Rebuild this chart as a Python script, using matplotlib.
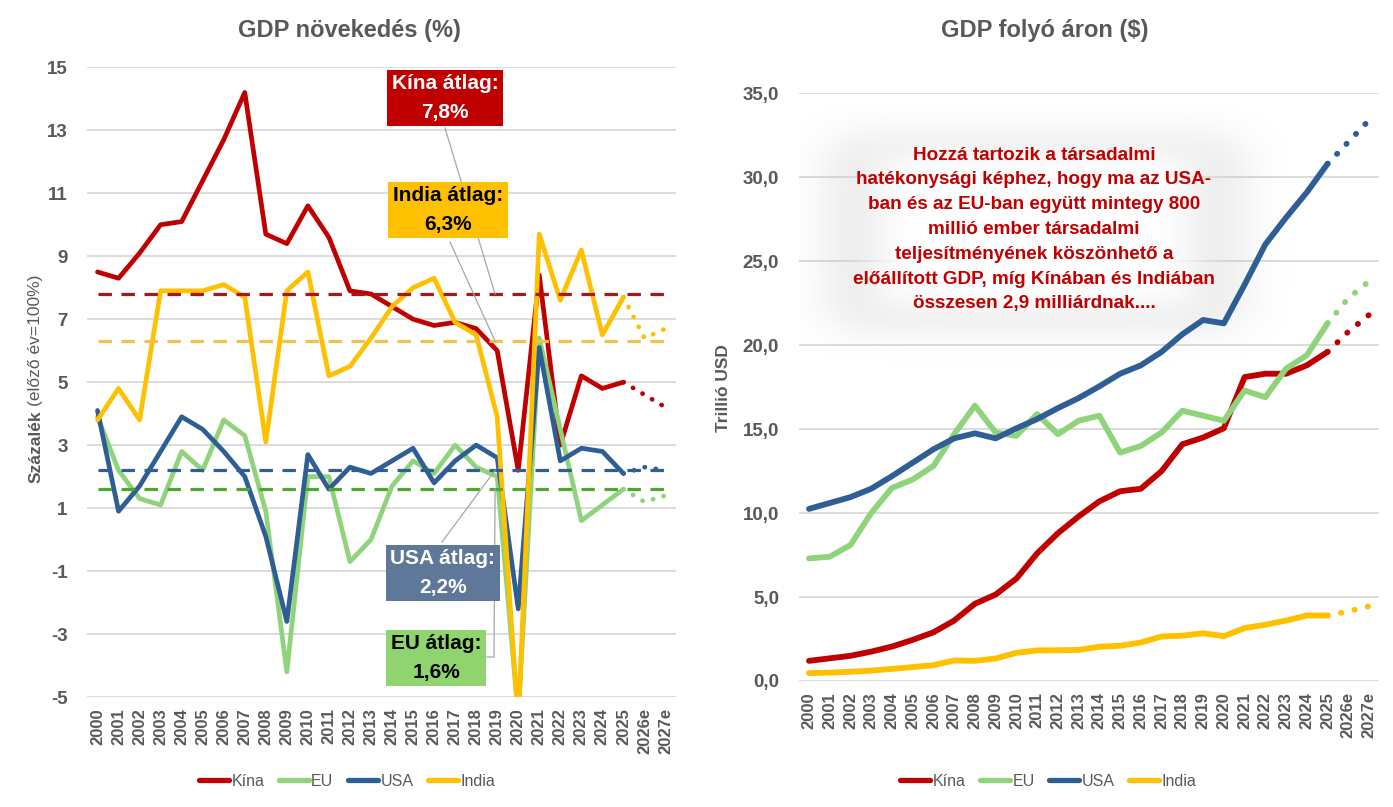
import math
import numpy as np
import matplotlib
matplotlib.use("Agg")
import matplotlib.pyplot as plt
from matplotlib.lines import Line2D

plt.rcParams['font.family'] = ['Liberation Sans', 'DejaVu Sans']

# ---------------- data ----------------
years = ['2000', '2001', '2002', '2003', '2004', '2005', '2006', '2007', '2008', '2009',
         '2010', '2011', '2012', '2013', '2014', '2015', '2016', '2017', '2018', '2019',
         '2020', '2021', '2022', '2023', '2024', '2025', '2026e', '2027e']
series_names = ['Kína', 'EU', 'USA', 'India']

growth_china = [8.5, 8.3, 9.1, 10.0, 10.1, 11.4, 12.7, 14.2, 9.7, 9.4, 10.6, 9.6, 7.9, 7.8,
                7.4, 7.0, 6.8, 6.9, 6.7, 6.0, 2.2, 8.4, 3.0, 5.2, 4.8, 5.0, 4.6, 4.2]
growth_eu = [3.9, 2.2, 1.3, 1.1, 2.8, 2.2, 3.8, 3.3, 0.9, -4.2, 2.0, 2.0, -0.7, 0.0,
             1.7, 2.5, 2.1, 3.0, 2.3, 2.0, -5.6, 6.4, 3.5, 0.6, 1.1, 1.6, 1.2, 1.4]
growth_usa = [4.1, 0.9, 1.7, 2.8, 3.9, 3.5, 2.8, 2.0, 0.1, -2.6, 2.7, 1.6, 2.3, 2.1,
              2.5, 2.9, 1.8, 2.5, 3.0, 2.6, -2.2, 6.1, 2.5, 2.9, 2.8, 2.1, 2.3, 2.2]
growth_india = [3.8, 4.8, 3.8, 7.9, 7.9, 7.9, 8.1, 7.7, 3.1, 7.9, 8.5, 5.2, 5.5, 6.4,
                7.4, 8.0, 8.3, 6.9, 6.5, 3.9, -5.8, 9.7, 7.6, 9.2, 6.5, 7.7, 6.4, 6.7]
growth_avg = [7.8, 1.6, 2.2, 6.3]
avg_labels = ['Kína átlag:\n7,8%', 'EU átlag:\n1,6%', 'USA átlag:\n2,2%', 'India átlag:\n6,3%']

gdp_china = [1.2, 1.35, 1.5, 1.75, 2.05, 2.45, 2.9, 3.6, 4.6, 5.15, 6.1, 7.6, 8.8, 9.8,
             10.7, 11.3, 11.45, 12.5, 14.1, 14.5, 15.05, 18.1, 18.3, 18.3, 18.8, 19.6, 20.8, 21.8]
gdp_eu = [7.3, 7.4, 8.1, 10.0, 11.5, 12.0, 12.8, 14.7, 16.4, 14.8, 14.6, 15.9, 14.7, 15.5,
          15.8, 13.6, 14.0, 14.8, 16.1, 15.8, 15.5, 17.3, 16.9, 18.6, 19.4, 21.3, 22.8, 23.8]
gdp_usa = [10.25, 10.6, 10.95, 11.45, 12.2, 13.0, 13.8, 14.45, 14.75, 14.45, 15.05, 15.6, 16.25, 16.85,
           17.55, 18.3, 18.8, 19.6, 20.65, 21.5, 21.3, 23.6, 26.0, 27.6, 29.1, 30.8, 32.1, 33.4]
gdp_india = [0.47, 0.5, 0.55, 0.62, 0.72, 0.83, 0.94, 1.22, 1.2, 1.34, 1.68, 1.82, 1.83, 1.85,
             2.04, 2.1, 2.29, 2.65, 2.7, 2.84, 2.67, 3.15, 3.35, 3.6, 3.9, 3.9, 4.15, 4.45]

left_yticks = [-5, -3, -1, 1, 3, 5, 7, 9, 11, 13, 15]
right_yticks = [0, 5, 10, 15, 20, 25, 30, 35]

note_text = ("Hozzá tartozik a társadalmi\n"
             "hatékonysági képhez, hogy ma az USA-\n"
             "ban és az EU-ban együtt mintegy 800\n"
             "millió ember társadalmi\n"
             "teljesítményének köszönhető a\n"
             "előállított GDP, míg Kínában és Indiában\n"
             "összesen 2,9 milliárdnak....")

# ---------------- styles ----------------
colors = ['#C00000', '#8FD47A', '#2F5E95', '#FFC000']
avg_colors = ['#A8161C', '#4EA72E', '#2F5E95', '#F2C14E']
box_colors = ['#C00000', '#8FD46F', '#5F7799', '#FFC000']
box_text_colors = ['white', 'black', 'white', 'black']
GRAY = '#595959'
W, H = 1393, 807
N_ACT = 26  # values up to 2025 are solid


def fx(px):
    return px / W


def fy(py):
    return 1 - py / H


fig = plt.figure(figsize=(W / 100, H / 100), dpi=100)
fig.patch.set_facecolor('white')

# axes geometry in pixels
L_x0, L_x1, L_ytop, L_ybot = 87, 676, 67.3, 697
R_x0, R_x1, R_ytop, R_ybot = 798.6, 1379.4, 93.3, 681

axL = fig.add_axes([fx(L_x0), fy(L_ybot), (L_x1 - L_x0) / W, (L_ybot - L_ytop) / H])
axR = fig.add_axes([fx(R_x0), fy(R_ybot), (R_x1 - R_x0) / W, (R_ybot - R_ytop) / H])

x = np.arange(len(years))


def style_axes(ax, yticks, ylabels):
    for s in ax.spines.values():
        s.set_visible(False)
    ax.set_axisbelow(True)
    ax.yaxis.grid(True, color='#D9D9D9', lw=1.3)
    ax.set_yticks(yticks)
    ax.set_yticklabels(ylabels, fontsize=13.5, fontweight='bold', color=GRAY)
    ax.set_xticks(x)
    ax.set_xticklabels(years, rotation=90, fontsize=12, fontweight='bold', color=GRAY)
    ax.tick_params(axis='both', length=0)
    ax.tick_params(axis='y', pad=14)
    ax.tick_params(axis='x', pad=8)
    ax.set_xlim(-0.5, len(years) - 0.5)


def plot_series(ax, vals, color, lw, z=3):
    vals = np.array(vals, dtype=float)
    ax.plot(x[:N_ACT], vals[:N_ACT], color=color, lw=lw, solid_capstyle='round',
            solid_joinstyle='round', zorder=z)
    ax.plot(x[N_ACT - 1:], vals[N_ACT - 1:], color=color, lw=lw, linestyle=(0, (0.05, 2.3)),
            dash_capstyle='round', zorder=z)


# ---------------- left chart ----------------
growth = [growth_china, growth_eu, growth_usa, growth_india]
for vals, c in zip(growth, colors):
    plot_series(axL, vals, c, 3.4)
for a, c in zip(growth_avg, avg_colors):
    axL.plot([x[0], x[-1]], [a, a], color=c, lw=2.3, linestyle=(0, (4.2, 3.0)), zorder=4)
style_axes(axL, left_yticks, [str(v) for v in left_yticks])
axL.set_ylim(-5, 15)


def Lpx(px, py):
    xd = -0.5 + (px - L_x0) / (L_x1 - L_x0) * len(years)
    yd = 15 - (py - L_ytop) / (L_ybot - L_ytop) * 20
    return xd, yd


# leader lines (box edge in pixels -> average line in data)
leader_x = 18.9
leaders = [
    ([Lpx(445, 128)], growth_avg[0]),
    ([Lpx(450, 242)], growth_avg[3]),
    ([Lpx(442, 542)], growth_avg[2]),
    ([Lpx(487, 657), Lpx(494, 657)], growth_avg[1]),
]
for pts, avg in leaders:
    xs = [p[0] for p in pts] + [leader_x]
    ys = [p[1] for p in pts] + [avg]
    axL.plot(xs, ys, color='#A6A6A6', lw=0.9, zorder=5, clip_on=False)

box_centers = [(445, 98), (436, 658), (443, 573), (448, 210)]
for (px, py), lab, bc, tc in zip(box_centers, avg_labels, box_colors, box_text_colors):
    bx, by = Lpx(px, py)
    axL.text(bx, by, lab, ha='center', va='center', fontsize=15, fontweight='bold', color=tc,
             linespacing=1.65, zorder=6, clip_on=False,
             bbox=dict(boxstyle='square,pad=0.22', fc=bc, ec='none'))

# ---------------- right chart ----------------
gdp = [gdp_china, gdp_eu, gdp_usa, gdp_india]
for vals, c in zip(gdp, colors):
    plot_series(axR, vals, c, 4.2)
style_axes(axR, right_yticks, [f"{v:.1f}".replace('.', ',') for v in right_yticks])


def Rpx(px, py):
    xd = -0.5 + (px - R_x0) / (R_x1 - R_x0) * len(years)
    yd = (R_ybot - py) / (R_ybot - R_ytop) * 35
    return xd, yd


# soft glow behind the note
gx0, gx1, gy0, gy1 = 770, 1300, 85, 375
gxs = np.arange(gx0, gx1) + 0.5
gys = np.arange(gy0, gy1) + 0.5
erf = np.vectorize(math.erf)


def soft(v, a, b, s):
    return 0.5 * (erf((v - a) / (s * math.sqrt(2))) - erf((v - b) / (s * math.sqrt(2))))


gray_a = 0.24 * np.outer(soft(gys, 140, 325, 18), soft(gxs, 835, 1235, 26))
white_a = np.outer(soft(gys, 150, 312, 14), soft(gxs, 870, 1200, 24))
A = white_a + (1 - white_a) * gray_a
Cp = white_a * 1.0 + (1 - white_a) * gray_a * 0.55
C = Cp / np.maximum(A, 1e-6)
img = np.dstack([C, C, C, A])
ex0, ey1 = Rpx(gx0, gy1)
ex1, ey0 = Rpx(gx1, gy0)
axR.imshow(img, extent=[ex0, ex1, ey1, ey0], origin='upper', aspect='auto', zorder=1,
           interpolation='bilinear')
axR.set_xlim(-0.5, len(years) - 0.5)
axR.set_ylim(0, 35)

tx, ty = Rpx(1034, 229.5)
axR.text(tx, ty, note_text, ha='center', va='center', multialignment='center',
         fontsize=13.6, fontweight='bold', color='#C00000', linespacing=1.6, zorder=6)

# ---------------- titles, labels, legends ----------------
fig.text(fx(349), fy(30), 'GDP növekedés (%)', ha='center', va='center', fontsize=17,
         fontweight='bold', color=GRAY)
fig.text(fx(1045), fy(30), 'GDP folyó áron ($)', ha='center', va='center', fontsize=17,
         fontweight='bold', color=GRAY)

t1 = fig.text(fx(36), fy(483), 'Százalék', rotation=90, ha='center', va='bottom',
              fontsize=12.5, fontweight='bold', color=GRAY)
renderer = fig.canvas.get_renderer()
bb = t1.get_window_extent(renderer)
fig.text(fx(36), (bb.y1 + 4) / H, '(előző év=100%)', rotation=90, ha='center', va='bottom',
         fontsize=12.5, color=GRAY)
fig.text(fx(723), fy(388), 'Trillió USD', rotation=90, ha='center', va='center',
         fontsize=12.5, fontweight='bold', color=GRAY)

handles = [Line2D([], [], color=c, lw=3.8, solid_capstyle='round') for c in colors]
for cx in (347, 1048):
    fig.legend(handles, series_names, loc='center', bbox_to_anchor=(fx(cx), fy(781)),
               ncol=4, frameon=False, handlelength=1.9, handletextpad=0.15,
               columnspacing=0.9, fontsize=11.5, labelcolor=GRAY)

fig.savefig('out.png', dpi=100, facecolor='white')
